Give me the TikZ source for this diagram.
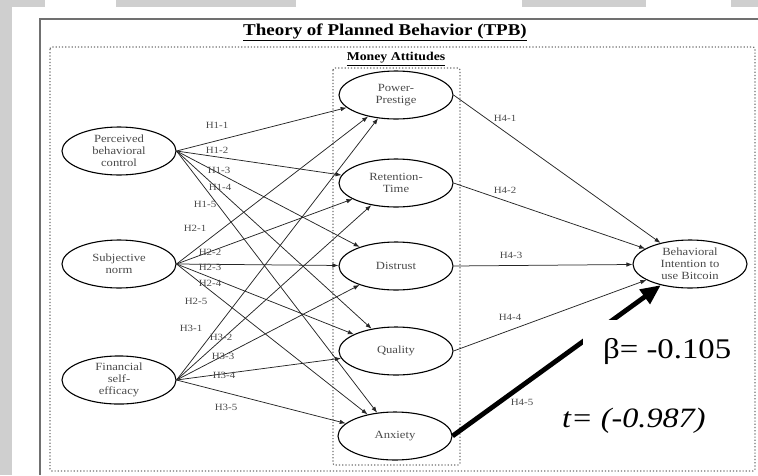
\documentclass[tikz,border=0pt]{standalone}
\usepackage{fontspec}
\setmainfont[FakeStretch=1.15]{Liberation Serif}
\usetikzlibrary{shapes.geometric,arrows.meta}
\definecolor{pagegray}{HTML}{CFCFCF}
\definecolor{framegray}{HTML}{707070}
\definecolor{inkgray}{HTML}{4A4A4A}
\begin{document}
\begin{tikzpicture}[x=1pt,y=-1pt]
\tikzstyle{construct} = [ellipse, draw, line width=1.1pt, minimum width=114pt, minimum height=48pt, inner sep=0pt, align=center, text=inkgray, font=\fontsize{11}{12}\selectfont]
\tikzstyle{hyp} = [draw=black!85, line width=0.75pt, -{Latex[length=6pt,width=4.5pt]}]
\tikzstyle{hlabel} = [text=inkgray, font=\fontsize{9.5}{11}\selectfont, inner sep=1pt]
\tikzstyle{dotbox} = [draw=framegray, dotted, line width=1.2pt, rounded corners=2pt]
\useasboundingbox (0,0) rectangle (758,475);
% page edges
\fill[pagegray] (0,0) rectangle (12,475);
\fill[pagegray] (0,0) rectangle (45,7);
\fill[pagegray] (116,0) rectangle (296,7);
\fill[pagegray] (522,0) rectangle (646,7);
\fill[pagegray] (731,0) rectangle (758,7);
\draw[framegray, line width=1.3pt] (40,475) -- (40,19) -- (758,19);
% frames
\draw[dotbox] (50,47) rectangle (755,471);
\draw[dotbox] (333,68) rectangle (460,465);
\node[font=\bfseries\fontsize{16.5}{18}\selectfont] (title) at (385,32) {\underline{Theory of Planned Behavior (TPB)}};
\node[font=\bfseries\fontsize{12}{14}\selectfont] (money) at (396,59) {\underline{Money Attitudes}};
% constructs
\node[construct] (pbc) at (119,151) {Perceived\\behavioral\\control};
\node[construct] (sn) at (119,264) {Subjective\\norm};
\node[construct] (fse) at (119,380) {Financial\\self-\\efficacy};
\node[construct] (pp) at (396,95) {Power-\\Prestige};
\node[construct] (rt) at (396,183) {Retention-\\Time};
\node[construct] (dis) at (396,266) {Distrust};
\node[construct] (qual) at (396,351) {Quality};
\node[construct] (anx) at (395,436) {Anxiety};
\node[construct] (bi) at (690,264) {Behavioral\\Intention to\\use Bitcoin};
% H1
\draw[hyp] (pbc.east) -- (pp);
\draw[hyp] (pbc.east) -- (rt);
\draw[hyp] (pbc.east) -- (dis);
\draw[hyp] (pbc.east) -- (qual);
\draw[hyp] (pbc.east) -- (anx);
% H2
\draw[hyp] (sn.east) -- (pp);
\draw[hyp] (sn.east) -- (rt);
\draw[hyp] (sn.east) -- (dis);
\draw[hyp] (sn.east) -- (qual);
\draw[hyp] (sn.east) -- (anx);
% H3
\draw[hyp] (fse.east) -- (pp);
\draw[hyp] (fse.east) -- (rt);
\draw[hyp] (fse.east) -- (dis);
\draw[hyp] (fse.east) -- (qual);
\draw[hyp] (fse.east) -- (anx);
% H4
\draw[hyp] (pp.east) -- (bi);
\draw[hyp] (rt.east) -- (bi);
\draw[hyp] (dis.east) -- (bi);
\draw[hyp] (qual.east) -- (bi);
\draw[line width=4.8pt, -{Triangle[length=20pt,width=17pt]}] (anx.east) -- (bi);
% labels
\node[hlabel] (h11) at (217,125) {H1-1};
\node[hlabel] (h12) at (217,150) {H1-2};
\node[hlabel] (h13) at (219,170) {H1-3};
\node[hlabel] (h14) at (220,187) {H1-4};
\node[hlabel] (h15) at (205,204) {H1-5};
\node[hlabel] (h21) at (195,228) {H2-1};
\node[hlabel] (h22) at (210,252) {H2-2};
\node[hlabel] (h23) at (210,267) {H2-3};
\node[hlabel] (h24) at (210,283) {H2-4};
\node[hlabel] (h25) at (196,301) {H2-5};
\node[hlabel] (h31) at (191,328) {H3-1};
\node[hlabel] (h32) at (221,337) {H3-2};
\node[hlabel] (h33) at (223,356) {H3-3};
\node[hlabel] (h34) at (224,375) {H3-4};
\node[hlabel] (h35) at (226,407) {H3-5};
\node[hlabel] (h41) at (505,118) {H4-1};
\node[hlabel] (h42) at (505,190) {H4-2};
\node[hlabel] (h43) at (511,255) {H4-3};
\node[hlabel] (h44) at (510,317) {H4-4};
\node[hlabel] (h45) at (522,402) {H4-5};
% result
\node[fill=white, anchor=base west, inner xsep=20pt, inner ysep=0pt, text height=38pt, text depth=8pt, font=\fontsize{28.5}{32}\selectfont] (beta) at (583,358) {β= -0.105};
\node[anchor=base west, inner sep=0pt, font=\itshape\fontsize{28}{32}\selectfont] (tval) at (562,427) {t= (-0.987)};
\end{tikzpicture}
\end{document}
